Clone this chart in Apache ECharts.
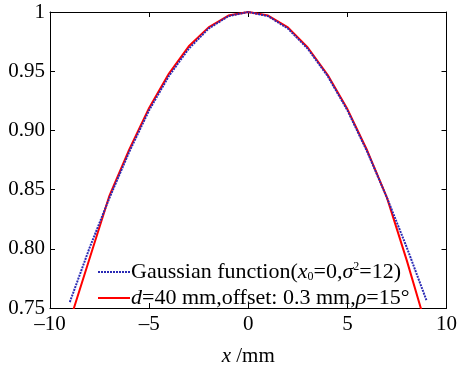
<!DOCTYPE html>
<html><head><meta charset="utf-8">
<script src="https://cdn.jsdelivr.net/npm/echarts@6/dist/echarts.min.js"></script>
<style>html,body{margin:0;padding:0;background:#fff}#c{width:460px;height:372px}</style>
</head><body><div id="c"></div>
<script>
var xValues = [-9,-8,-7,-6,-5,-4,-3,-2,-1,0,1,2,3,4,5,6,7,8,9];
var gaussian = [0.755,0.801,0.843,0.882,0.917,0.946,0.969,0.986,0.9965,1,0.9965,0.986,0.969,0.946,0.917,0.882,0.843,0.801,0.756];
var measured = [0.739,0.792,0.845,0.884,0.919,0.948,0.971,0.987,0.997,1,0.997,0.987,0.970,0.947,0.918,0.883,0.843,0.790,0.733];
var xTicks = [-10,-5,0,5,10];
var yTicks = [0.75,0.80,0.85,0.90,0.95,1];
var seriesNames = ['gauss','meas'];

var FONT = '"Liberation Serif","DejaVu Serif",serif';
function pairs(ys){return xValues.map(function(x,i){return [x,ys[i]];});}
var chart = echarts.init(document.getElementById('c'));
var axisLine = {show:true,onZero:false,lineStyle:{color:'#000',width:1}};
var tick = {show:true,inside:true,length:5,lineStyle:{color:'#000'}};
chart.setOption({
  backgroundColor:'#fff',
  animation:false,
  grid:{left:50,right:12,top:12,bottom:50},
  legend:{
    orient:'vertical',left:97,top:261,padding:0,itemWidth:32,itemHeight:14,itemGap:4,
    itemStyle:{opacity:0},
    data:seriesNames,
    formatter:function(n){
      if(n==='gauss') return 'Gaussian function({i|x}{sub|0}=0,{i|σ}{sup|2}=12)';
      return '{i|d}=40 mm,offset: 0.3 mm,{i|ρ}=15°';
    },
    textStyle:{fontFamily:FONT,fontSize:22,color:'#000',padding:[0,0,0,-4],
      rich:{
        i:{fontFamily:FONT,fontSize:22,fontStyle:'italic',color:'#000'},
        sub:{fontFamily:FONT,fontSize:12,color:'#000',verticalAlign:'bottom',padding:[8,0,0,0]},
        sup:{fontFamily:FONT,fontSize:12,color:'#000',verticalAlign:'top',padding:[0,0,8,0]}
      }}
  },
  xAxis:[{
    type:'value',min:xTicks[0],max:xTicks[xTicks.length-1],interval:5,
    axisLine:axisLine,axisTick:tick,splitLine:{show:false},
    axisLabel:{fontFamily:FONT,fontSize:21,color:'#000',margin:6,
      formatter:function(v){return v<0?'\u2013'+Math.abs(v):String(v);}},
    name:'{i|x} /mm',nameLocation:'middle',nameGap:38,
    nameTextStyle:{fontFamily:FONT,fontSize:21,color:'#000',rich:{i:{fontFamily:FONT,fontSize:21,fontStyle:'italic',color:'#000'}}}
  },{
    type:'value',position:'top',min:-10,max:10,interval:5,
    axisLine:axisLine,axisTick:tick,axisLabel:{show:false},splitLine:{show:false}
  }],
  yAxis:[{
    type:'value',min:yTicks[0],max:yTicks[yTicks.length-1],interval:0.05,
    axisLine:axisLine,axisTick:tick,splitLine:{show:false},
    axisLabel:{fontFamily:FONT,fontSize:21,color:'#000',margin:5,
      formatter:function(v){return Math.abs(v-1)<1e-9?'1':v.toFixed(2);}}
  },{
    type:'value',position:'right',min:0.75,max:1,interval:0.05,
    axisLine:axisLine,axisTick:tick,axisLabel:{show:false},splitLine:{show:false}
  }],
  series:[{
    name:'gauss',type:'line',data:pairs(gaussian),symbol:'none',
    lineStyle:{color:'#2a2ab5',width:2,type:[2,1]},itemStyle:{color:'#2a2ab5'},z:3
  },{
    name:'meas',type:'line',data:pairs(measured),symbol:'none',clip:true,
    lineStyle:{color:'#ff0000',width:2,type:'solid'},itemStyle:{color:'#ff0000'},z:2
  }]
});
</script></body></html>
